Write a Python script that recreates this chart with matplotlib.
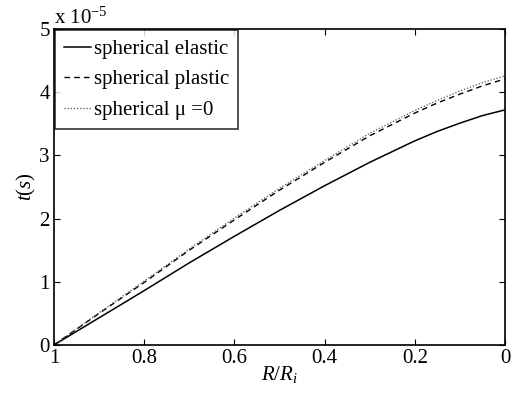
import matplotlib
matplotlib.use("Agg")
import matplotlib.pyplot as plt
from matplotlib.ticker import FuncFormatter

plt.rcParams['font.family'] = ['Liberation Serif', 'DejaVu Serif']
plt.rcParams['mathtext.fontset'] = 'custom'
plt.rcParams['mathtext.rm'] = 'Liberation Serif'
plt.rcParams['mathtext.it'] = 'Liberation Serif:italic'

# R/Ri positions (axis runs from 1 down to 0)
r = [1.0, 0.9, 0.8, 0.7, 0.6, 0.5, 0.4, 0.3, 0.2, 0.15, 0.1, 0.05, 0.0]
# times in units of 1e-5 s
t_elastic = [0, 0.43, 0.86, 1.30, 1.72, 2.13, 2.52, 2.89, 3.23, 3.38, 3.51, 3.63, 3.72]
t_plastic = [0, 0.50, 0.99, 1.50, 1.98, 2.45, 2.89, 3.31, 3.67, 3.83, 3.97, 4.10, 4.21]
t_mu0 = [0, 0.51, 1.01, 1.52, 2.01, 2.48, 2.92, 3.35, 3.71, 3.87, 4.02, 4.15, 4.26]
scale = 1e-5

fig = plt.figure(figsize=(5.17, 3.94), dpi=100)
ax = fig.add_axes([0.1044, 0.1244, 0.8724, 0.802])

ax.plot(r, [v * scale for v in t_elastic], color='black', lw=1.1, ls='-', label='spherical elastic')
ax.plot(r, [v * scale for v in t_plastic], color='black', lw=1.0, ls=(0, (4, 3)), label='spherical plastic')
ax.plot(r, [v * scale for v in t_mu0], color='#555555', lw=0.9, ls=(0, (1, 1.5)), label='spherical μ =0')

ax.set_xlim(1, 0)
ax.set_ylim(0, 5e-5)
ax.set_xticks([1, 0.8, 0.6, 0.4, 0.2, 0])
ax.set_xticklabels(['1', '0.8', '0.6', '0.4', '0.2', '0'])
ax.set_yticks([i * scale for i in range(6)])
ax.yaxis.set_major_formatter(FuncFormatter(lambda v, p: '%d' % round(v / scale)))
ax.tick_params(direction='in', top=True, right=True, labelsize=15, length=4, width=0.8, pad=3)
for s in ax.spines.values():
    s.set_linewidth(1.2)

ax.text(0.0, 1.0, 'x 10$^{-5}$', transform=ax.transAxes, fontsize=15, ha='left', va='bottom')

ax.set_xlabel('$R/R_i$', fontsize=15, labelpad=-3)
ax.set_ylabel('$t(s)$', fontsize=15, labelpad=1)

leg = ax.legend(loc='upper left', fontsize=15, frameon=True, fancybox=False,
                borderaxespad=0.05, handlelength=1.3, handletextpad=0.1,
                borderpad=0.45, labelspacing=0.52)
leg.get_frame().set_edgecolor('black')
leg.get_frame().set_linewidth(1.2)

fig.savefig('out.png', dpi=100)
